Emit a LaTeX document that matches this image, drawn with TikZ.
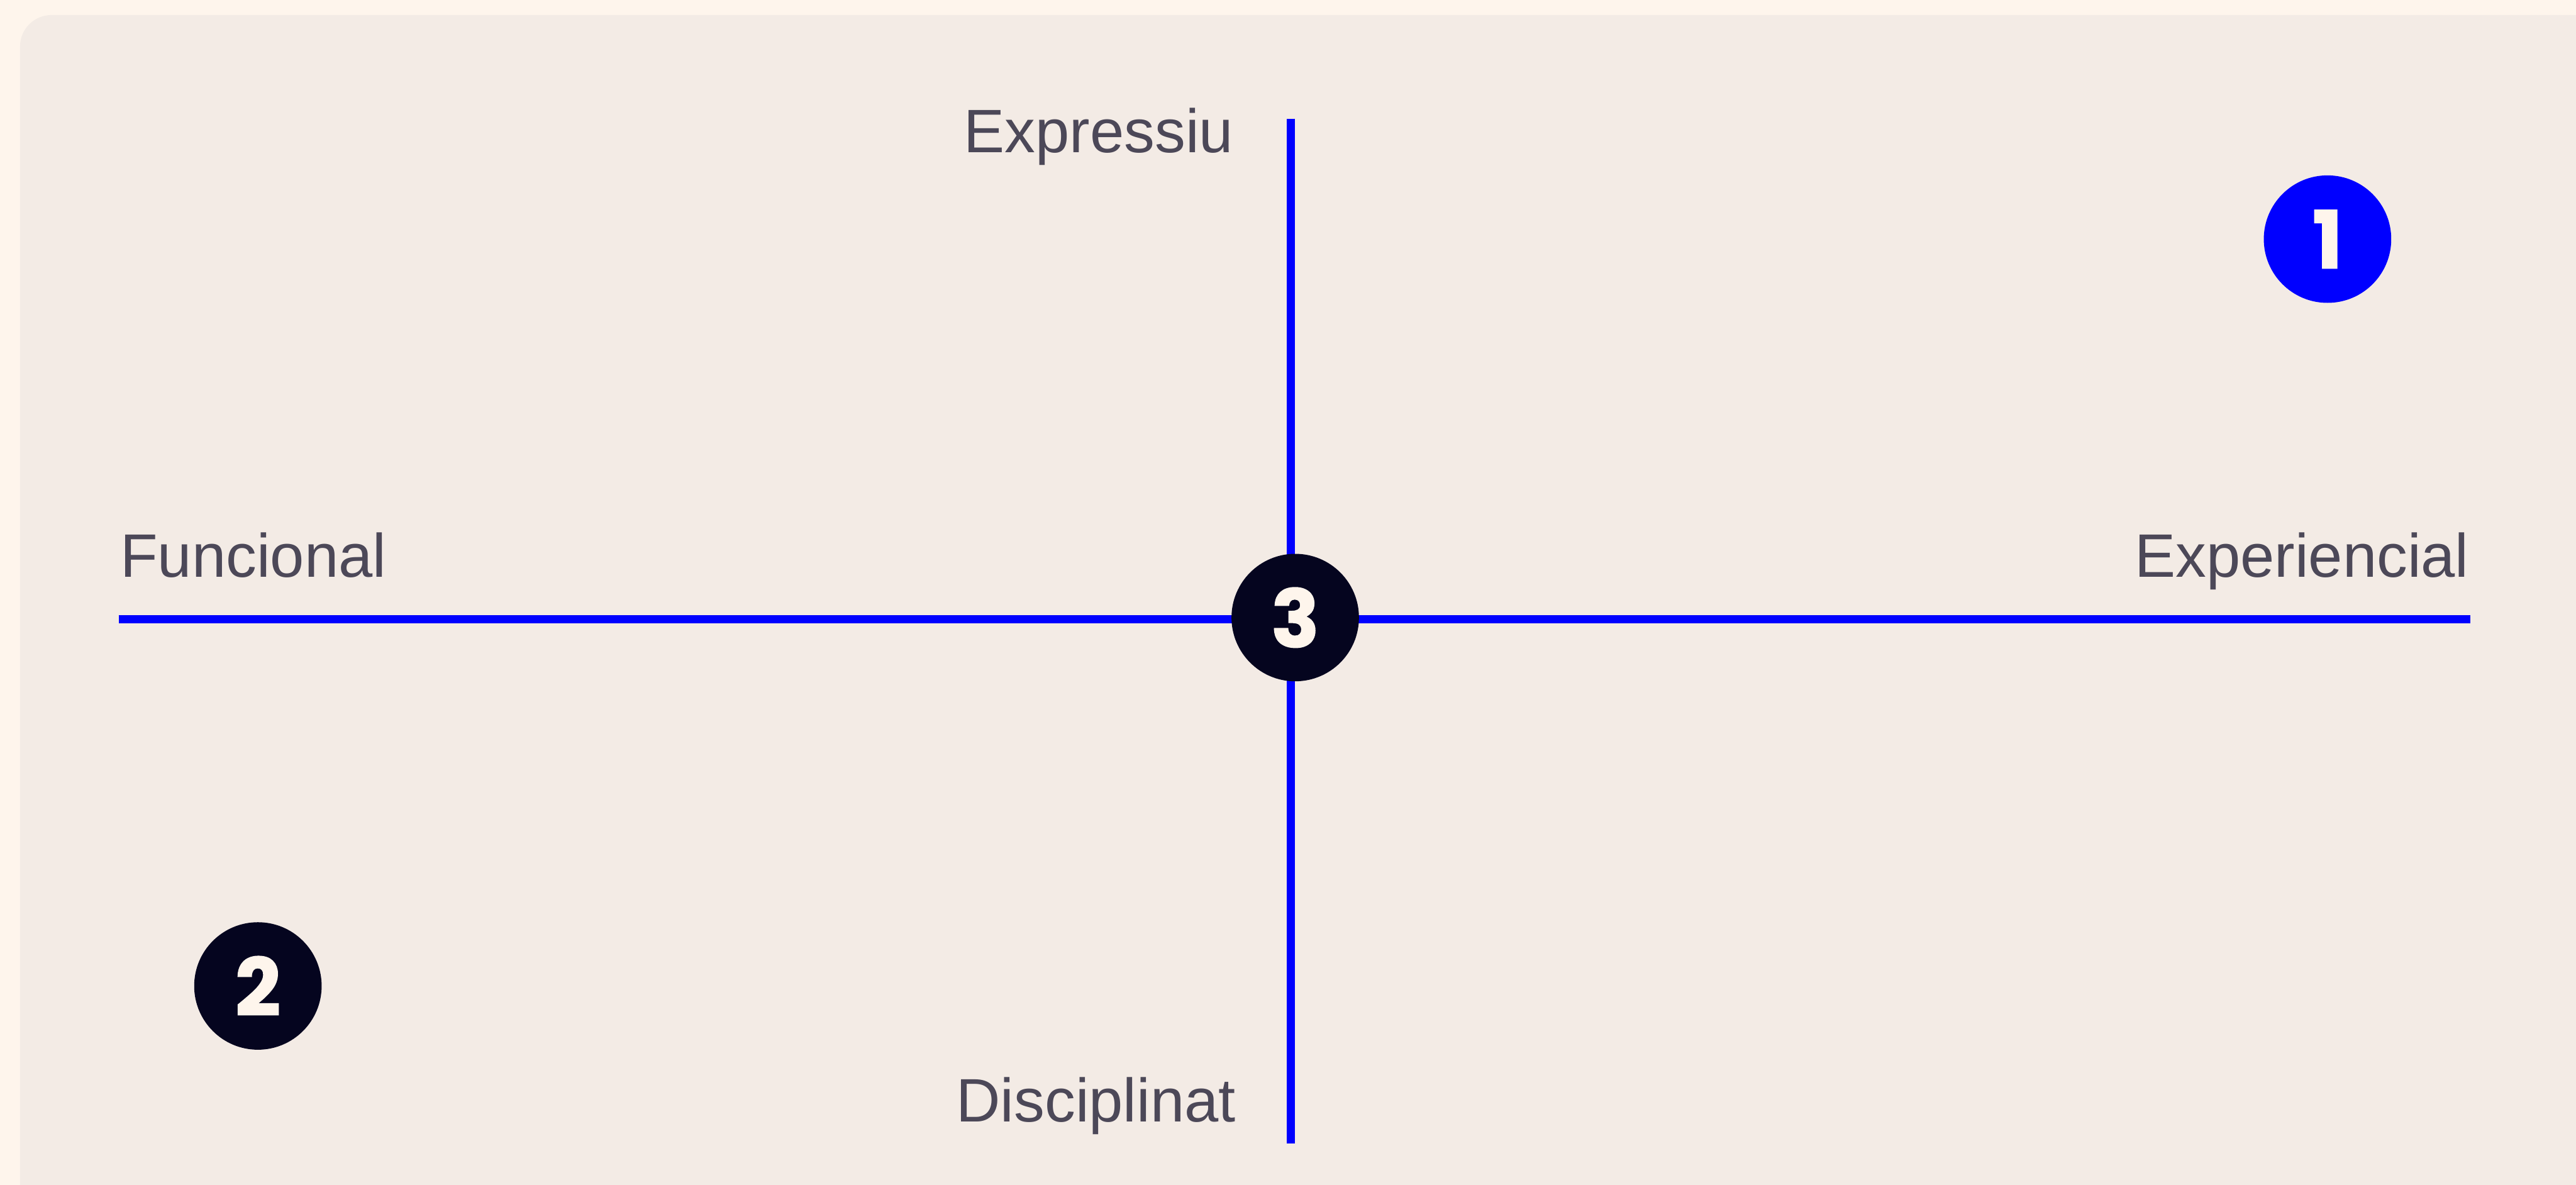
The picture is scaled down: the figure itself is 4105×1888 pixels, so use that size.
\documentclass[tikz,border=0pt]{standalone}
\usepackage{fontspec}
\setmainfont{Liberation Sans}
\newfontfamily\numfont[BoldFeatures={FakeBold=1.6}]{Poppins}
\usepackage{tikz}
\usetikzlibrary{positioning}
\definecolor{PageFill}{RGB}{254,245,236}
\definecolor{CardFill}{RGB}{243,235,229}
\definecolor{AxisLine}{RGB}{0,0,255}
\definecolor{LblText}{RGB}{76,72,88}
\definecolor{NumDark}{RGB}{5,5,31}
\definecolor{NumBlue}{RGB}{0,0,255}
\definecolor{NumText}{RGB}{254,245,236}
\tikzset{
  nd_axis/.style={
    font=\fontsize{27.8pt}{30pt}\selectfont,
    text=LblText, inner sep=0pt},
  nd_num/.style={
    circle, minimum size=2.03cm, inner sep=0pt,
    font=\numfont\bfseries\fontsize{36pt}{36pt}\selectfont,
    text=NumText},
  ax_line/.style={draw=AxisLine, line width=0.13cm},
}
\begin{document}
\begin{tikzpicture}[x=0.01cm,y=-0.01cm]
% page and card
\fill[PageFill] (0,0) rectangle (4105,1888);
\useasboundingbox (0,0) rectangle (4105,1888);
\fill[CardFill,rounded corners=0.5cm] (32,24) rectangle (4300,2000);

% axes
\coordinate (ax_top) at (2057,189);
\coordinate (ax_bot) at (2057,1822);
\coordinate (ax_lft) at (189,987);
\coordinate (ax_rgt) at (3937,987);
\draw[ax_line] (ax_top) -- (ax_bot);
\draw[ax_line] (ax_lft) -- (ax_rgt);

% axis labels
\node[nd_axis,anchor=base east] (lbl_expr) at (1966,243) {Expressiu};
\node[nd_axis,anchor=base east] (lbl_disc) at (1970,1787) {Disciplinat};
\node[nd_axis,anchor=base west] (lbl_func) at (191,920) {Funcional};
\node[nd_axis,anchor=base east] (lbl_expe) at (3935,920) {Experiencial};

% numbered markers
\node[nd_num,fill=NumBlue] (num_one) at (3709,381) {1};
\node[nd_num,fill=NumDark] (num_two) at (411,1571) {2};
\node[nd_num,fill=NumDark] (num_three) at (2064,984) {3};
\end{tikzpicture}
\end{document}
